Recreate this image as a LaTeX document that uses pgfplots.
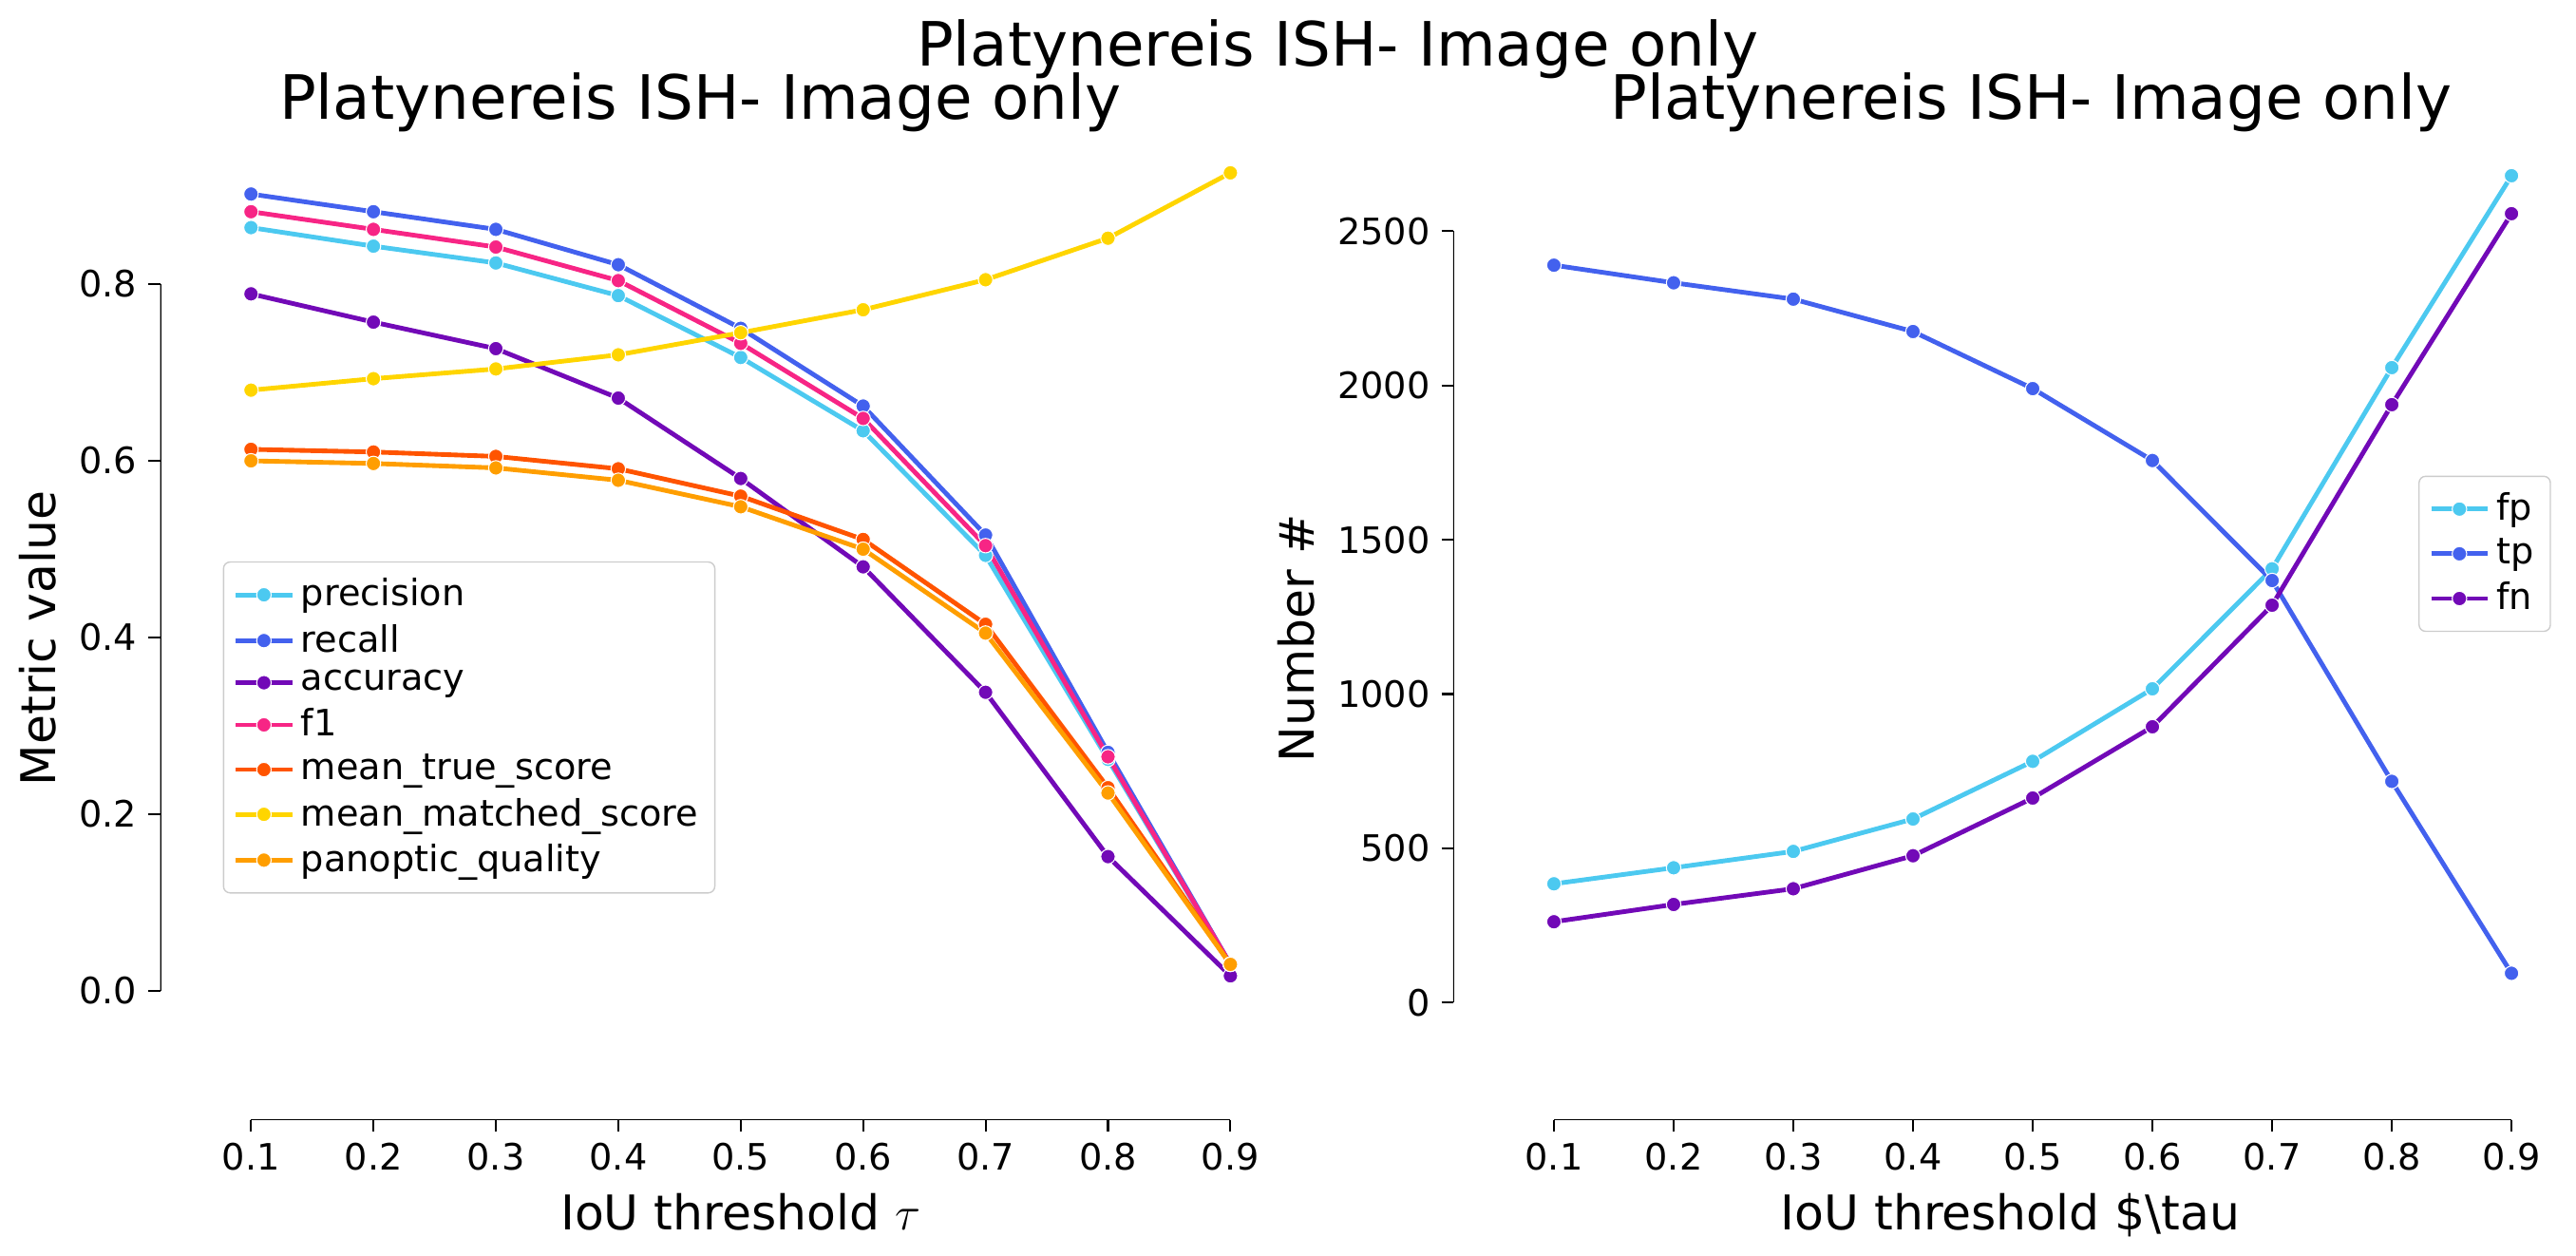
\documentclass[border=0pt]{standalone}
\usepackage{pgfplots}
\pgfplotsset{compat=1.18}
\usepackage{fontspec}
\setmainfont{DejaVu Sans}
\definecolor{cA}{HTML}{4CC9F0}
\definecolor{cB}{HTML}{4361EE}
\definecolor{cC}{HTML}{7209B7}
\definecolor{cD}{HTML}{F72585}
\definecolor{cE}{HTML}{FF5400}
\definecolor{cF}{HTML}{FFD500}
\definecolor{cG}{HTML}{FF9E00}
\pgfplotsset{
  common/.style={scale only axis, axis line style={draw=none},
    /pgf/number format/assume math mode=true,
    tick label style={font=\fontsize{11}{13}\selectfont},
    label style={font=\fontsize{14.5}{17}\selectfont},
    xtick pos=bottom, ytick pos=left,
    tick align=outside, major tick length=3.5pt, tick style={black, line width=0.6pt},
    xtick={0.1,0.2,...,0.9}, xticklabel style={/pgf/number format/fixed,/pgf/number format/precision=1,/pgf/number format/fixed zerofill},
    legend style={font=\fontsize{11}{14}\selectfont, draw=black!20, rounded corners=2pt, inner sep=3pt},
    legend cell align=left,
    every axis plot/.append style={line width=1.4pt, mark=*, mark size=2.2pt, mark options={draw=white, line width=0.3pt}},
  }
}
\begin{document}
\begin{tikzpicture}
\path (0pt,0pt) rectangle (780pt,-380pt);
\node[font=\fontsize{18.5}{21}\selectfont] at (405pt,-15pt) {Platynereis ISH- Image only};
\node[font=\fontsize{18.5}{21}\selectfont] at (212pt,-31pt) {Platynereis ISH- Image only};
\node[font=\fontsize{18.5}{21}\selectfont] at (615pt,-31pt) {Platynereis ISH- Image only};
\begin{axis}[common, at={(48.5pt,-339pt)}, anchor=south west, width=351.5pt, height=291.5pt,
  xmin=0.0258, xmax=0.974, ymin=-0.146, ymax=0.944,
  ytick={0,0.2,...,0.8}, yticklabel style={/pgf/number format/fixed,/pgf/number format/precision=1,/pgf/number format/fixed zerofill},
  xlabel={IoU threshold $\tau$}, ylabel={Metric value},
  legend style={at={(0.054,0.58)}, anchor=north west}]
\draw[black, line width=0.6pt] (axis cs:0.1,-0.146) -- (axis cs:0.9,-0.146);
\draw[black, line width=0.6pt] (axis cs:0.0258,0) -- (axis cs:0.0258,0.8);
\addplot[cA] coordinates {(0.1,0.864)(0.2,0.843)(0.3,0.824)(0.4,0.787)(0.5,0.717)(0.6,0.634)(0.7,0.493)(0.8,0.262)(0.9,0.03)};
\addlegendentry{precision}
\addplot[cB] coordinates {(0.1,0.902)(0.2,0.882)(0.3,0.862)(0.4,0.822)(0.5,0.75)(0.6,0.662)(0.7,0.516)(0.8,0.27)(0.9,0.03)};
\addlegendentry{recall}
\addplot[cC] coordinates {(0.1,0.789)(0.2,0.757)(0.3,0.727)(0.4,0.671)(0.5,0.58)(0.6,0.48)(0.7,0.338)(0.8,0.152)(0.9,0.017)};
\addlegendentry{accuracy}
\addplot[cD] coordinates {(0.1,0.882)(0.2,0.862)(0.3,0.842)(0.4,0.804)(0.5,0.733)(0.6,0.648)(0.7,0.504)(0.8,0.265)(0.9,0.03)};
\addlegendentry{f1}
\addplot[cE] coordinates {(0.1,0.613)(0.2,0.61)(0.3,0.605)(0.4,0.591)(0.5,0.56)(0.6,0.511)(0.7,0.415)(0.8,0.23)(0.9,0.03)};
\addlegendentry{mean\_true\_score}
\addplot[cF] coordinates {(0.1,0.68)(0.2,0.693)(0.3,0.704)(0.4,0.72)(0.5,0.745)(0.6,0.771)(0.7,0.805)(0.8,0.852)(0.9,0.926)};
\addlegendentry{mean\_matched\_score}
\addplot[cG] coordinates {(0.1,0.6)(0.2,0.597)(0.3,0.592)(0.4,0.578)(0.5,0.548)(0.6,0.5)(0.7,0.405)(0.8,0.224)(0.9,0.03)};
\addlegendentry{panoptic\_quality}
\end{axis}
\begin{axis}[common, at={(440pt,-339pt)}, anchor=south west, width=337.5pt, height=291.5pt,
  xmin=0.0158, xmax=0.947, ymin=-380, ymax=2741,
  ytick={0,500,...,2500}, yticklabel style={/pgf/number format/1000 sep={}},
  xlabel={IoU threshold \$\textbackslash tau}, ylabel={Number \#},
  legend style={at={(0.985,0.669)}, anchor=north east}]
\draw[black, line width=0.6pt] (axis cs:0.1,-380) -- (axis cs:0.9,-380);
\draw[black, line width=0.6pt] (axis cs:0.0158,0) -- (axis cs:0.0158,2500);
\addplot[cA] coordinates {(0.1,385)(0.2,437)(0.3,490)(0.4,595)(0.5,782)(0.6,1017)(0.7,1406)(0.8,2058)(0.9,2680)};
\addlegendentry{fp}
\addplot[cB] coordinates {(0.1,2390)(0.2,2333)(0.3,2280)(0.4,2175)(0.5,1990)(0.6,1757)(0.7,1368)(0.8,717)(0.9,95)};
\addlegendentry{tp}
\addplot[cC] coordinates {(0.1,262)(0.2,318)(0.3,369)(0.4,476)(0.5,663)(0.6,894)(0.7,1288)(0.8,1938)(0.9,2557)};
\addlegendentry{fn}
\end{axis}
\end{tikzpicture}
\end{document}
